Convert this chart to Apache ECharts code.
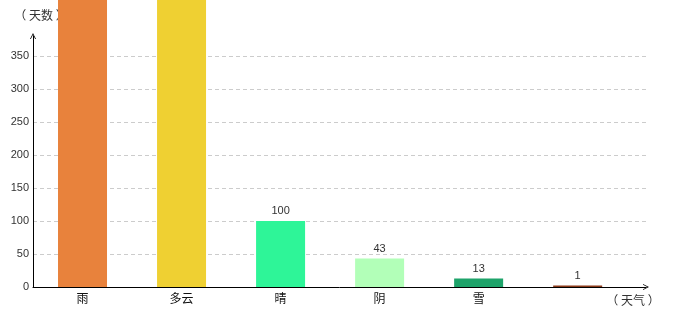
<!DOCTYPE html>
<html>
<head>
<meta charset="utf-8">
<script src="https://cdn.jsdelivr.net/npm/echarts@6/dist/echarts.min.js"></script>
<style>html,body{margin:0;padding:0;background:#fff}#c{width:680px;height:320px}</style>
</head>
<body>
<div id="c"></div>
<script>
var categories = ['雨', '多云', '晴', '阴', '雪', ''];
var values = [520, 490, 100, 43, 13, 1];
var colors = ['#E8823C', '#EFD032', '#2EF598', '#B2FFB8', '#1EA36A', '#8B3A1A'];
var yTicks = [0, 50, 100, 150, 200, 250, 300, 350];

var chart = echarts.init(document.getElementById('c'));
var arrow = 'path://M0,10 L5,0 L10,10 L8.6,10 L5,2.8 L1.4,10 Z';
chart.setOption({
  animation: false,
  textStyle: { fontFamily: 'sans-serif' },
  grid: { left: 33, right: 34, top: 36, bottom: 33, containLabel: false },
  xAxis: {
    type: 'value',
    min: -0.5,
    max: 5.69,
    interval: 0.5,
    name: '（ 天气 ）',
    nameLocation: 'end',
    nameGap: -13,
    nameTextStyle: { color: '#333', fontSize: 12, align: 'center', verticalAlign: 'top', padding: [7, 0, 0, 0], fontFamily: 'Noto Sans CJK SC' },
    axisLine: { lineStyle: { color: '#000', width: 1 }, symbol: ['none', arrow], symbolSize: [6, 8] },
    axisTick: { show: false },
    axisLabel: {
      color: '#111', fontSize: 12, margin: 5, fontFamily: 'Noto Sans CJK SC',
      showMinLabel: false, showMaxLabel: false,
      formatter: function (v) {
        var i = Math.round(v);
        return Math.abs(v - i) < 1e-6 && categories[i] !== undefined ? categories[i] : '';
      }
    },
    splitLine: { show: false }
  },
  yAxis: {
    type: 'value',
    min: 0,
    max: 380,
    interval: 50,
    name: '（ 天数 ）',
    nameLocation: 'end',
    nameGap: 15,
    nameTextStyle: { color: '#333', fontSize: 12, padding: [0, 0, 0, 16], fontFamily: 'Noto Sans CJK SC' },
    axisLine: { show: true, onZero: false, lineStyle: { color: '#000', width: 1 }, symbol: ['none', arrow], symbolSize: [6, 8] },
    axisTick: { show: false },
    axisLabel: {
      color: '#333', fontSize: 11, margin: 4, showMaxLabel: false,
      formatter: function (v) { return yTicks.indexOf(v) >= 0 ? String(v) : ''; }
    },
    splitLine: { show: true, showMaxLine: false, lineStyle: { color: '#ccc', type: [4, 3], width: 1 } }
  },
  series: [{
    type: 'bar',
    clip: false,
    barWidth: 49,
    barMinHeight: 1.5,
    data: values.map(function (v, i) { return { value: [i, v], itemStyle: { color: colors[i] } }; }),
    label: {
      show: true, position: 'top', color: '#333', fontSize: 11, distance: 4,
      formatter: function (p) { return String(p.value[1]); }
    }
  }]
});
</script>
</body>
</html>
